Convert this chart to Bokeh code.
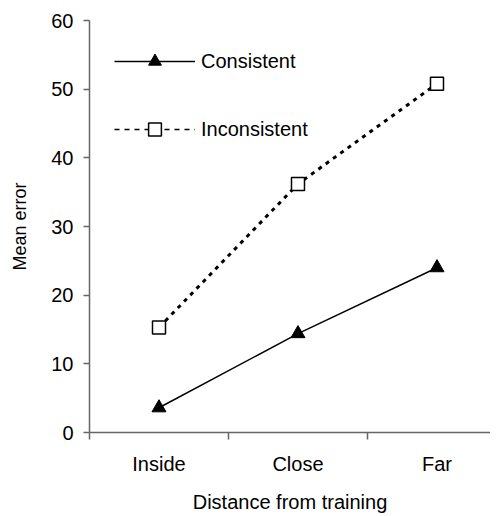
from bokeh.plotting import figure
from bokeh.models import Range1d, FixedTicker, Legend, LegendItem
from bokeh.embed import file_html
from bokeh.resources import INLINE

categories = ["Inside", "Close", "Far"]
consistent = [3.6, 14.4, 24.0]
inconsistent = [15.3, 36.2, 50.8]
y_ticks = [0, 10, 20, 30, 40, 50, 60]

xs = [i + 0.5 for i in range(len(categories))]
FONT = "Liberation Sans"

p = figure(width=490, height=515, output_backend="svg", toolbar_location=None,
           x_range=Range1d(0, 2.885), y_range=Range1d(0, 60),
           min_border_left=89, min_border_right=0, min_border_top=20, min_border_bottom=82)
p.grid.visible = False
p.outline_line_color = None
p.background_fill_color = "white"
p.border_fill_color = "white"

# x axis
xa = p.xaxis[0]
xa.ticker = FixedTicker(ticks=xs, minor_ticks=[0, 1, 2, 3])
xa.major_label_overrides = {x: c for x, c in zip(xs, categories)}
xa.major_tick_out = 0
xa.major_tick_in = 0
xa.minor_tick_out = 7
xa.minor_tick_in = 0
xa.minor_tick_line_color = "#666666"
xa.minor_tick_line_width = 1.5
xa.axis_line_color = "#666666"
xa.axis_line_width = 1.5
xa.major_label_text_font = FONT
xa.major_label_text_font_size = "20px"
xa.major_label_text_color = "black"
xa.major_label_standoff = 13
xa.axis_label = "Distance from training"
xa.axis_label_text_font = FONT
xa.axis_label_text_font_size = "20px"
xa.axis_label_text_font_style = "normal"
xa.axis_label_text_color = "black"
xa.axis_label_standoff = 13

# y axis
ya = p.yaxis[0]
ya.ticker = FixedTicker(ticks=y_ticks, minor_ticks=[])
ya.major_tick_out = 6
ya.major_tick_in = 0
ya.major_tick_line_color = "#666666"
ya.major_tick_line_width = 1.5
ya.axis_line_color = "#666666"
ya.axis_line_width = 1.5
ya.major_label_text_font = FONT
ya.major_label_text_font_size = "20px"
ya.major_label_text_color = "black"
ya.major_label_standoff = 10
ya.axis_label = "Mean error"
ya.axis_label_text_font = FONT
ya.axis_label_text_font_size = "18px"
ya.axis_label_text_font_style = "normal"
ya.axis_label_text_color = "black"
ya.axis_label_standoff = 18

# series
l1 = p.line(xs, consistent, line_color="black", line_width=1.5)
s1 = p.scatter(xs, consistent, marker="triangle", size=14, fill_color="black", line_color="black")

l2 = p.line(xs, inconsistent, line_color="black", line_width=3, line_dash="4 5")
s2 = p.scatter(xs, inconsistent, marker="square", size=13, fill_color="white",
               line_color="black", line_width=1.5)

# legend-only renderer (thin dashed as in reference key)
l2_key = p.line(xs, inconsistent, line_color="black", line_width=1.5, line_dash="5 5", visible=False)

legend = Legend(items=[LegendItem(label="Consistent", renderers=[l1, s1]),
                       LegendItem(label="Inconsistent", renderers=[l2_key, s2])],
                location=(25, 287), orientation="vertical",
                glyph_width=81, glyph_height=32, label_height=32, label_standoff=6,
                spacing=36, padding=0, margin=0,
                border_line_alpha=0, background_fill_alpha=0,
                inactive_fill_alpha=0,
                label_text_font=FONT, label_text_font_size="20px", label_text_color="black")
p.add_layout(legend)

open("out.html", "w").write(file_html(p, INLINE))
